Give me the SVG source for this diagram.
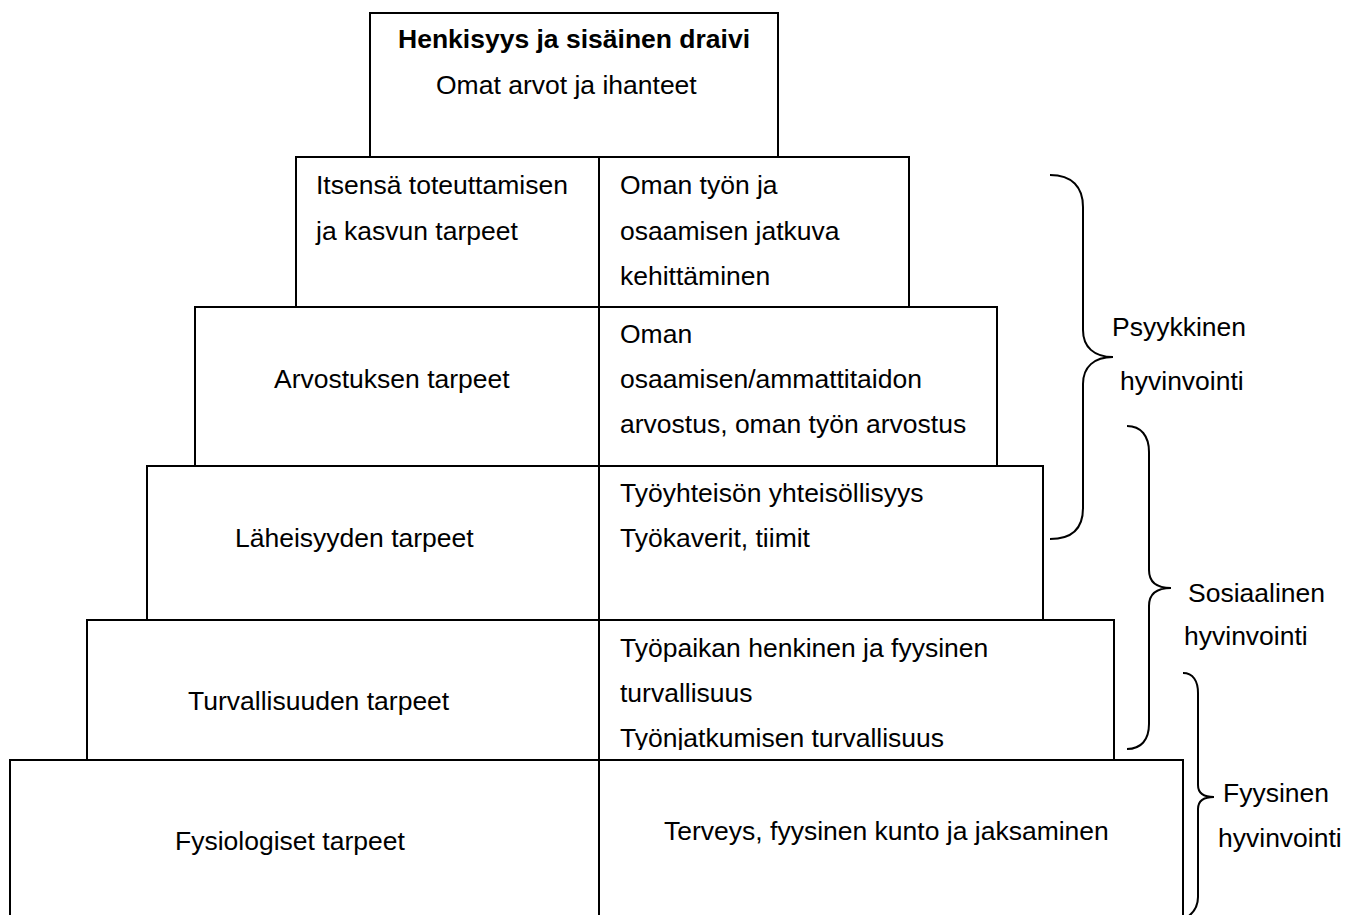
<svg xmlns="http://www.w3.org/2000/svg" width="1345" height="915" viewBox="0 0 1345 915">
<style>
.box{fill:#fff;stroke:#000;stroke-width:2}
.div{stroke:#000;stroke-width:2}
.t{font-family:"Liberation Sans",Arial,sans-serif;font-size:26.5px;fill:#000}
.b{font-weight:bold}
.brace{fill:none;stroke:#000;stroke-width:2}
</style>
<defs>
<clipPath id="clipTurva"><rect x="600" y="620" width="514" height="130"/></clipPath>
</defs>
<g id="node-henkisyys">
<rect class="box" x="370" y="13" width="408" height="144"/>
<text class="t b" x="398" y="48">Henkisyys ja sisäinen draivi</text>
<text class="t" x="436" y="94">Omat arvot ja ihanteet</text>
</g>
<g id="node-itsensa">
<rect class="box" x="296" y="157" width="613" height="150"/>
<line class="div" x1="599" y1="157" x2="599" y2="307"/>
<text class="t" x="316" y="194">Itsensä toteuttamisen</text>
<text class="t" x="316" y="240">ja kasvun tarpeet</text>
<text class="t" x="620" y="194">Oman työn ja</text>
<text class="t" x="620" y="240">osaamisen jatkuva</text>
<text class="t" x="620" y="285">kehittäminen</text>
</g>
<g id="node-arvostus">
<rect class="box" x="195" y="307" width="802" height="159"/>
<line class="div" x1="599" y1="307" x2="599" y2="466"/>
<text class="t" x="274" y="388">Arvostuksen tarpeet</text>
<text class="t" x="620" y="343">Oman</text>
<text class="t" x="620" y="388">osaamisen/ammattitaidon</text>
<text class="t" x="620" y="433">arvostus, oman työn arvostus</text>
</g>
<g id="node-laheisyys">
<rect class="box" x="147" y="466" width="896" height="154"/>
<line class="div" x1="599" y1="466" x2="599" y2="620"/>
<text class="t" x="235" y="547">Läheisyyden tarpeet</text>
<text class="t" x="620" y="502">Työyhteisön yhteisöllisyys</text>
<text class="t" x="620" y="547">Työkaverit, tiimit</text>
</g>
<g id="node-turvallisuus">
<rect class="box" x="87" y="620" width="1027" height="140"/>
<line class="div" x1="599" y1="620" x2="599" y2="760"/>
<text class="t" x="188" y="710">Turvallisuuden tarpeet</text>
<g clip-path="url(#clipTurva)">
<text class="t" x="620" y="657">Työpaikan henkinen ja fyysinen</text>
<text class="t" x="620" y="702">turvallisuus</text>
<text class="t" x="620" y="747">Työnjatkumisen turvallisuus</text>
</g>
</g>
<g id="node-fysiologiset">
<rect class="box" x="10" y="760" width="1173" height="170"/>
<line class="div" x1="599" y1="760" x2="599" y2="915"/>
<text class="t" x="175" y="850">Fysiologiset tarpeet</text>
<text class="t" x="664" y="840">Terveys, fyysinen kunto ja jaksaminen</text>
</g>
<g id="connectors">
<path class="brace" d="M1050,175 C1072,175 1083,187 1083,207 L1083,330 C1083,347 1094,357 1113,357 C1094,357 1083,367 1083,384 L1083,508 C1083,528 1072,539 1050,539"/>
<path class="brace" d="M1127,426 C1141,426 1149,436 1149,452 L1149,570 C1149,582 1157,588 1171,588 C1157,588 1149,594 1149,606 L1149,724 C1149,740 1141,749 1127,749"/>
<path class="brace" d="M1183,673 C1193,673 1198,681 1198,693 L1198,785 C1198,793 1204,797 1214,797 C1204,797 1198,801 1198,809 L1198,897 C1198,907 1194,913 1186,918"/>
</g>
<g id="labels">
<text class="t" x="1112" y="336">Psyykkinen</text>
<text class="t" x="1120" y="390">hyvinvointi</text>
<text class="t" x="1188" y="602">Sosiaalinen</text>
<text class="t" x="1184" y="645">hyvinvointi</text>
<text class="t" x="1223" y="802">Fyysinen</text>
<text class="t" x="1218" y="847">hyvinvointi</text>
</g>
</svg>
